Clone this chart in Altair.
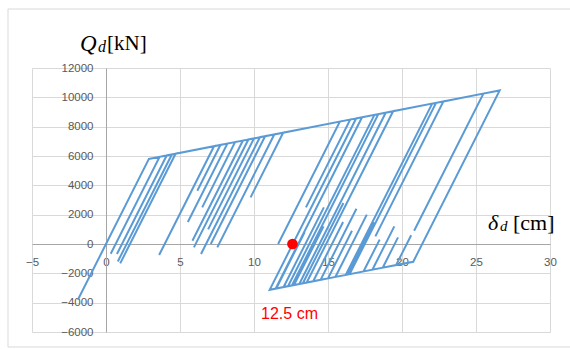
import altair as alt
import pandas as pd

# Hysteresis path of the isolator: displacement (cm) and restoring force (kN), vertex by vertex
delta = [0, -1.9, 2.90, 3.62, 0.32, 3.62, 4.1, 0.74, 4.1, 4.45, 0.80, 4.45, 4.7, 0.96, 4.7,
         7.3, 3.59, 7.3, 7.73, 6.17, 7.73, 8.2, 5.53, 8.2, 8.72, 6.50, 8.72, 9.25, 5.84, 9.25,
         9.62, 5.94, 9.62, 10.0, 6.9, 10.0, 10.4, 6.42, 10.4, 10.75, 7.08, 10.75, 11.37, 7.52,
         11.37, 11.97, 9.77, 11.97, 15.8, 11.63, 15.8, 16.5, 13.51, 16.5, 17.3, 11.46, 11.06,
         16.9, 18.4, 12.56, 12.3, 18.14, 18.9, 13.06, 18.9, 19.4, 13.56, 19.4, 22.3, 16.46,
         16.2, 22.04, 22.8, 18.2, 22.8, 25.5, 20.82, 25.5, 26.6, 20.76,
         19.6, 20.62, 19.6, 18.7, 19.73, 18.7, 18.0, 19.48, 18.0, 17.4, 18.49, 17.4, 16.3,
         18.09, 16.3, 15.5, 17.62, 15.5, 15.0, 16.62, 15.0, 14.5, 16.92, 14.5, 14.0, 16.02,
         14.0, 13.3, 16.04, 13.3, 12.7, 14.7, 12.7, 12.0, 14.72, 12.0, 11.5, 13.42, 11.5,
         11.06, 12.62]
force = [0, -3800, 5801, 5943, -660, 5943, 6038, -680, 6038, 6107, -1190, 6107, 6156, -1320, 6156,
         6668, -750, 6668, 6753, 3630, 6753, 6845, 1500, 6845, 6948, 2500, 6948, 7052, 225, 7052,
         7125, -230, 7125, 7200, 1000, 7200, 7279, -680, 7279, 7348, 0, 7348, 7470, -230,
         7470, 7588, 3180, 7588, 8343, 0, 8343, 8481, 2500, 8481, 8638, -3042, -3121,
         8559, 8855, -2826, -2877, 8804, 8953, -2727, 8953, 9052, -2629, 9052, 9623, -2057,
         -2109, 9572, 9722, 522, 9722, 10254, 900, 10254, 10470, -1210,
         -1439, 600, -1439, -1616, 450, -1616, -1754, 1200, -1754, -1872, 300, -1872, -2089,
         1500, -2089, -2247, 2000, -2247, -2345, 900, -2345, -2444, 2400, -2444, -2542, 1500,
         -2542, -2680, 2800, -2680, -2798, 1200, -2798, -2936, 2500, -2936, -3035, 800, -3035,
         -3121, 0]

x_ticks = [-5, 0, 5, 10, 15, 20, 25, 30]
y_ticks = [-6000, -4000, -2000, 0, 2000, 4000, 6000, 8000, 10000, 12000]

marker_delta = [12.6]
marker_force = [0]
marker_label = ["12.5 cm"]
label_delta = [12.4]
label_force = [-4750]

W, H = 518, 264

df = pd.DataFrame({"step": list(range(len(delta))), "delta": delta, "Q": force})
dot_df = pd.DataFrame({"delta": marker_delta, "Q": marker_force})
lab_df = pd.DataFrame({"delta": label_delta, "Q": label_force, "t": marker_label})
one = pd.DataFrame({"a": [0]})

xscale = alt.Scale(domain=[-5, 30], nice=False, zero=False)
yscale = alt.Scale(domain=[-6000, 12000], nice=False, zero=False)

lab_font = "Liberation Sans"

xaxis = alt.Axis(values=x_ticks, title=None, offset=-88, grid=True, format="d",
                 gridColor="#D9D9D9", domainColor="#A6A6A6", ticks=False,
                 labelPadding=12, labelColor="#595959", labelFont=lab_font,
                 labelFontSize=11.5, labelFlush=False, labelOverlap=False)
yaxis = alt.Axis(values=y_ticks, title=None, offset=-74, grid=True, format="d",
                 gridColor="#D9D9D9", domainColor="#A6A6A6", ticks=False,
                 labelPadding=13, labelColor="#595959", labelFont=lab_font,
                 labelFontSize=11.5, labelFlush=False, labelOverlap=False)

frame = alt.Chart(one).mark_rect(fillOpacity=0, stroke="#D9D9D9", strokeWidth=1).encode(
    x=alt.value(-24), x2=alt.value(546), y=alt.value(-59), y2=alt.value(279)
)

line = alt.Chart(df).mark_line(color="#5B9BD5", strokeWidth=2).encode(
    x=alt.X("delta:Q", scale=xscale, axis=xaxis),
    y=alt.Y("Q:Q", scale=yscale, axis=yaxis),
    order="step:Q",
)

dot = alt.Chart(dot_df).mark_point(filled=True, color="#FF0000", size=115, opacity=1).encode(
    x=alt.X("delta:Q", scale=xscale, axis=xaxis), y=alt.Y("Q:Q", scale=yscale, axis=yaxis)
)

lab = alt.Chart(lab_df).mark_text(color="#FF0000", font=lab_font, fontSize=16,
                                  align="center", baseline="middle").encode(
    x=alt.X("delta:Q", scale=xscale, axis=xaxis), y=alt.Y("Q:Q", scale=yscale, axis=yaxis),
    text="t:N"
)

serif = "Liberation Serif"

def txt(s, x, y, size, italic=False):
    return alt.Chart(one).mark_text(text=s, font=serif, fontSize=size,
                                    fontStyle="italic" if italic else "normal",
                                    align="left", baseline="alphabetic", color="#000000").encode(
        x=alt.value(x), y=alt.value(y))

titles = [
    txt("Q", 48, -17, 23, True),
    txt("d", 66, -16.5, 16, True),
    txt("[kN]", 75, -18, 21),
    txt("δ", 456, 162, 22, True),
    txt("d", 468, 163, 15, True),
    txt("[cm]", 481, 162, 22),
]

chart = alt.layer(frame, line, dot, lab, *titles).properties(
    width=W, height=H,
    autosize=alt.AutoSizeParams(type="none"),
    padding={"left": 32, "top": 68, "right": 20, "bottom": 17},
).configure_view(stroke=None)

chart.save("out.html", embed_options={"renderer": "svg", "actions": False})
